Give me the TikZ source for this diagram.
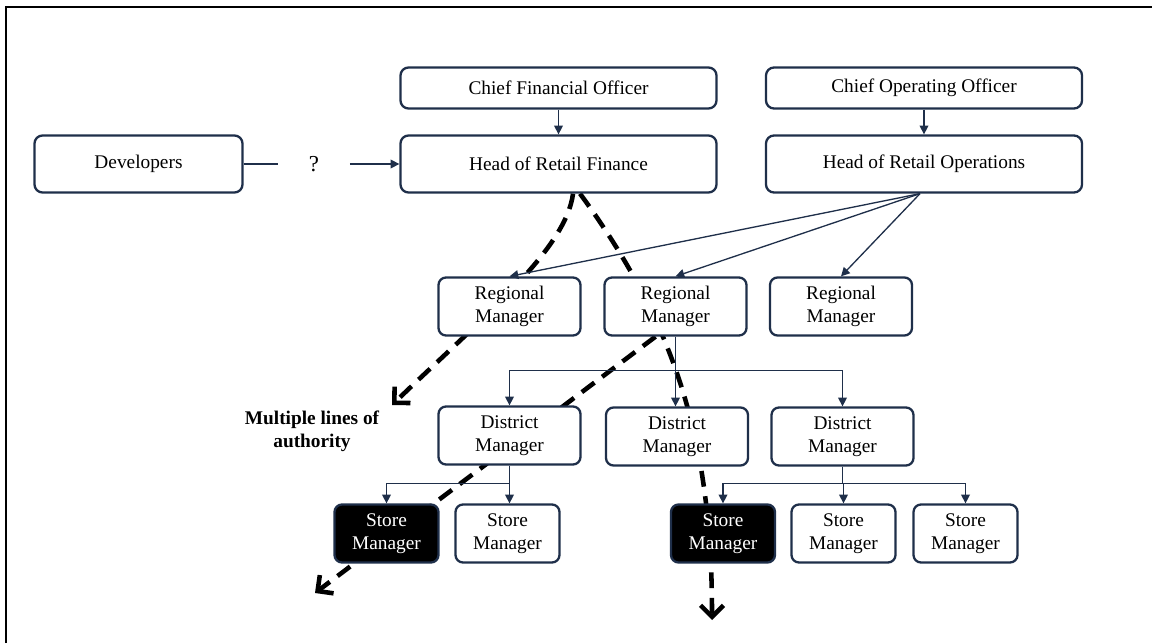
\documentclass[tikz,border=0pt]{standalone}
\usepackage{fontspec}
\setmainfont{Liberation Serif}
\usepackage{tikz}
\usetikzlibrary{arrows.meta, backgrounds}
\definecolor{navy}{HTML}{1F2F4A}

\begin{document}
\begin{tikzpicture}[x=0.2mm, y=-0.2mm,
  box/.style={draw=navy, line width=1.3pt, fill=white, align=center, inner sep=0pt,
              font=\fontsize{11}{13}\selectfont},
  topbox/.style={box, rounded corners=1.6mm, minimum width=6.32cm, minimum height=0.82cm},
  headbox/.style={box, rounded corners=1.6mm, minimum width=6.32cm, minimum height=1.14cm},
  midbox/.style={box, rounded corners=1.5mm, minimum width=2.84cm, minimum height=1.16cm},
  storebox/.style={box, rounded corners=1.5mm, minimum width=2.08cm, minimum height=1.16cm},
  storedark/.style={storebox, fill=black, text=white},
  link/.style={draw=navy, line width=0.75pt},
  linkarrow/.style={link, -{Triangle[length=5pt,width=5pt]}},
  authority/.style={line width=2.6pt, dash pattern=on 9pt off 5.5pt,
                    -{Straight Barb[length=6.5pt,width=13pt]}}
]
  \useasboundingbox (0,0) rectangle (1152,643);
  % Frame
  \draw[line width=1.7pt] (6,643) -- (6,7) -- (1152,7);

  % Executives
  \node[topbox] (cfo) at (558.5,88) {Chief Financial Officer};
  \node[topbox] (coo) at (924,88) {Chief Operating Officer};
  \node[headbox, minimum width=4.16cm] (dev) at (138.5,164) {Developers};
  \node[headbox] (hrf) at (558.5,164) {Head of Retail Finance};
  \node[headbox] (hro) at (924,164) {Head of Retail Operations};
  \node[font=\fontsize{13}{15}\selectfont, minimum width=1.42cm, inner sep=0pt] (q) at (314,164) {?};

  % Regional and district managers
  \node[midbox] (rm1) at (509.5,306.5) {Regional\\Manager};
  \node[midbox] (rm2) at (675.5,306.5) {Regional\\Manager};
  \node[midbox] (rm3) at (841,306.5) {Regional\\Manager};
  \node[midbox] (dm1) at (509.5,435.5) {District\\Manager};
  \node[midbox] (dm2) at (677,436.5) {District\\Manager};
  \node[midbox] (dm3) at (842.5,436.5) {District\\Manager};

  % Store managers
  \node[storedark] (sm1) at (386.5,533.5) {Store\\Manager};
  \node[storebox] (sm2) at (507.5,533.5) {Store\\Manager};
  \node[storedark] (sm3) at (723,533.5) {Store\\Manager};
  \node[storebox] (sm4) at (843.5,533.5) {Store\\Manager};
  \node[storebox] (sm5) at (965.5,533.5) {Store\\Manager};

  \node[font=\bfseries\fontsize{11}{13}\selectfont, align=center] (note) at (312,431)
       {Multiple lines of\\authority};

  % Reporting lines
  \draw[linkarrow] (cfo) -- (hrf);
  \draw[linkarrow] (coo) -- (hro);
  \draw[link] (dev) -- (q);
  \draw[linkarrow] (q) -- (hrf);
  \foreach \r in {rm1,rm2,rm3}
    \draw[linkarrow] ([xshift=-0.8mm]hro.south) -- (\r.north);
  \draw[linkarrow] (rm2.south) -- ++(0,34) -| (dm1.north);
  \draw[linkarrow] (rm2.south) -- ++(0,34) -| (dm3.north);
  \draw[linkarrow] (rm2.south) -- (rm2.south |- dm2.north);
  \draw[linkarrow] (dm1.south) -- ++(0,18) -| (sm1.north);
  \draw[linkarrow] (dm1.south) -- (dm1.south |- sm2.north);
  \foreach \s in {sm3,sm4,sm5}
    \draw[linkarrow] (dm3.south) -- ++(0,17) -| (\s.north);

  % Lines of authority, behind the boxes
  \coordinate (tip1) at (392,405);
  \coordinate (tip2) at (712,620);
  \coordinate (tip3) at (315,593);
  \begin{scope}[on background layer]
    \draw[authority] ([xshift=2.9mm]hrf.south) .. controls (566,250) and (480,320) .. (tip1);
    \draw[authority] ([xshift=4.3mm]hrf.south) .. controls (680,330) and (712,450) .. (tip2);
    \draw[authority] ([xshift=-4mm]rm2.south) -- (tip3);
  \end{scope}
\end{tikzpicture}
\end{document}
